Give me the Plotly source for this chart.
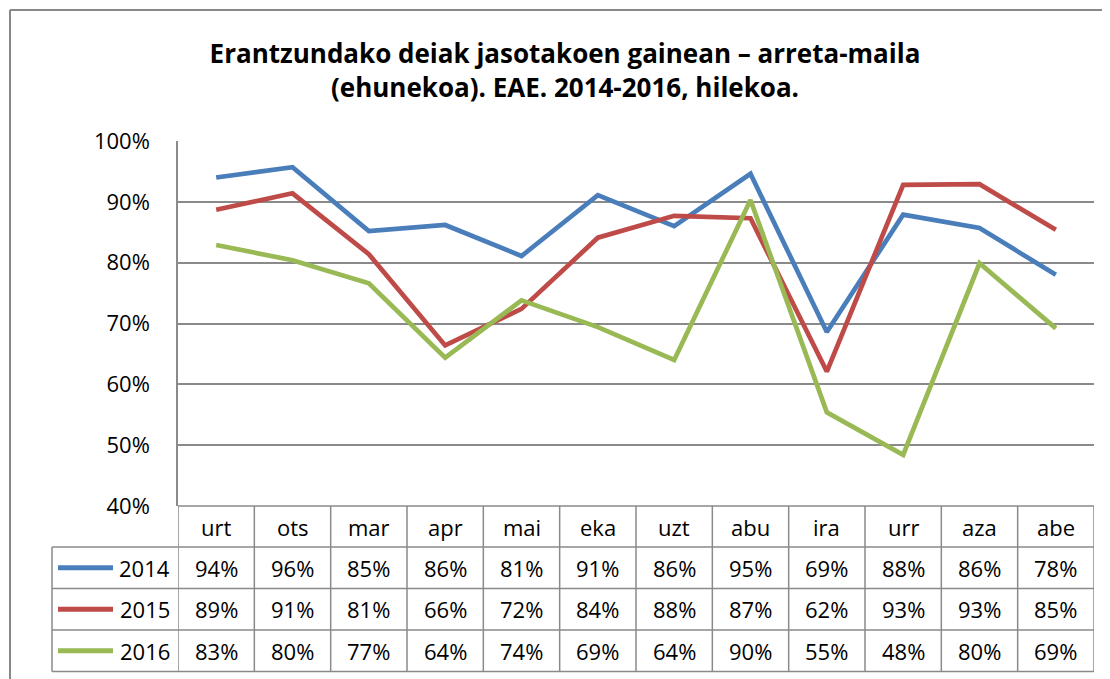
import plotly.graph_objects as go

months = ["urt", "ots", "mar", "apr", "mai", "eka", "uzt", "abu", "ira", "urr", "aza", "abe"]
years = ["2014", "2015", "2016"]

# arreta-maila (%)
y2014 = [94.0, 95.7, 85.2, 86.2, 81.1, 91.1, 86.0, 94.6, 68.6, 87.9, 85.7, 78.0]
y2015 = [88.7, 91.4, 81.4, 66.4, 72.4, 84.1, 87.7, 87.3, 62.1, 92.8, 92.9, 85.4]
y2016 = [82.9, 80.4, 76.6, 64.4, 73.8, 69.4, 64.0, 90.3, 55.4, 48.4, 79.9, 69.2]

series = [y2014, y2015, y2016]
colors = ["#4A7EBB", "#BE4B48", "#98B954"]

# the page body has an 8px margin, so every pixel position is shifted back by O
O = 8
W, H = 1110 - O, 679 - O
L, R, T, B = 178 - O, 1094 - O, 141 - O, 506 - O   # plot area in figure pixels
GRID = "#8a8a8a"
FONT = "Open Sans"


def pxx(p):
    '''screen column -> paper x'''
    return (p - O - L) / (R - L)


def pxy(p):
    '''screen row -> paper y'''
    return (B - (p - O)) / (B - T)


fig = go.Figure()

for name, vals, col in zip(years, series, colors):
    fig.add_trace(go.Scatter(x=months, y=vals, name=name, mode="lines",
                             line=dict(color=col, width=4.7)))

fig.update_xaxes(type="category", range=[-0.5, len(months) - 0.5],
                 showticklabels=False, showgrid=False, zeroline=False, showline=False)
fig.update_yaxes(range=[40, 100], dtick=10, ticksuffix="%", showgrid=True,
                 gridcolor=GRID, gridwidth=1.5, zeroline=False,
                 showline=True, linecolor=GRID, linewidth=1.5,
                 ticks="", ticklabelstandoff=22,
                 tickfont=dict(family=FONT, size=22, color="black"))

# data table below the plot (screen rows)
row_lines = [506, 547, 588.5, 630, 671.5]
row_mid = [(a + b) / 2 for a, b in zip(row_lines[:-1], row_lines[1:])]
table_left = 52

shapes = []
line_style = dict(color=GRID, width=1.5)
shapes.append(dict(type="line", xref="paper", yref="paper", x0=0, x1=1,
                   y0=pxy(row_lines[0]), y1=pxy(row_lines[0]), line=line_style))
for r in row_lines[1:]:
    shapes.append(dict(type="line", xref="paper", yref="paper", x0=pxx(table_left), x1=1,
                       y0=pxy(r), y1=pxy(r), line=line_style))
for i in range(len(months) + 1):
    shapes.append(dict(type="line", xref="x", yref="paper", x0=i - 0.5, x1=i - 0.5,
                       y0=pxy(row_lines[0]), y1=pxy(row_lines[-1]), line=line_style))
shapes.append(dict(type="line", xref="paper", yref="paper", x0=pxx(table_left), x1=pxx(table_left),
                   y0=pxy(row_lines[1]), y1=pxy(row_lines[-1]), line=line_style))

# legend keys inside the table
for k, col in enumerate(colors):
    yk = pxy(row_mid[k + 1])
    shapes.append(dict(type="line", xref="paper", yref="paper", x0=pxx(58), x1=pxx(113),
                       y0=yk, y1=yk, line=dict(color=col, width=5)))

# chart border (left and top edges visible)
shapes.append(dict(type="line", xref="paper", yref="paper", x0=pxx(10), x1=pxx(10),
                   y0=pxy(10), y1=pxy(700), line=dict(color="#888888", width=2)))
shapes.append(dict(type="line", xref="paper", yref="paper", x0=pxx(10), x1=pxx(1120),
                   y0=pxy(10), y1=pxy(10), line=dict(color="#888888", width=2)))

annotations = []
cell_font = dict(family=FONT, size=22, color="black")
for m in months:
    annotations.append(dict(x=m, y=pxy(row_mid[0]), xref="x", yref="paper", text=m,
                            showarrow=False, font=cell_font, yanchor="middle"))
for k, (name, vals) in enumerate(zip(years, series)):
    yk = pxy(row_mid[k + 1])
    annotations.append(dict(x=pxx(172), y=yk, xref="paper", yref="paper", text=name,
                            showarrow=False, font=cell_font, xanchor="right", yanchor="middle"))
    for m, v in zip(months, vals):
        annotations.append(dict(x=m, y=yk, xref="x", yref="paper", text=f"{round(v)}%",
                                showarrow=False, font=cell_font, yanchor="middle"))

fig.update_layout(
    width=W, height=H,
    margin=dict(l=L, r=W - R, t=T, b=H - B),
    paper_bgcolor="white", plot_bgcolor="white",
    showlegend=False,
    title=dict(text="Erantzundako deiak jasotakoen gainean – arreta-maila<br>(ehunekoa). EAE. 2014-2016, hilekoa.",
               xref="container", yref="container", x=(565 - O) / W, y=1 - (63 - O) / H,
               xanchor="center", yanchor="middle",
               font=dict(family=FONT, size=26, color="black", weight="bold")),
    shapes=shapes,
    annotations=annotations,
)

fig.write_html("out.html")
